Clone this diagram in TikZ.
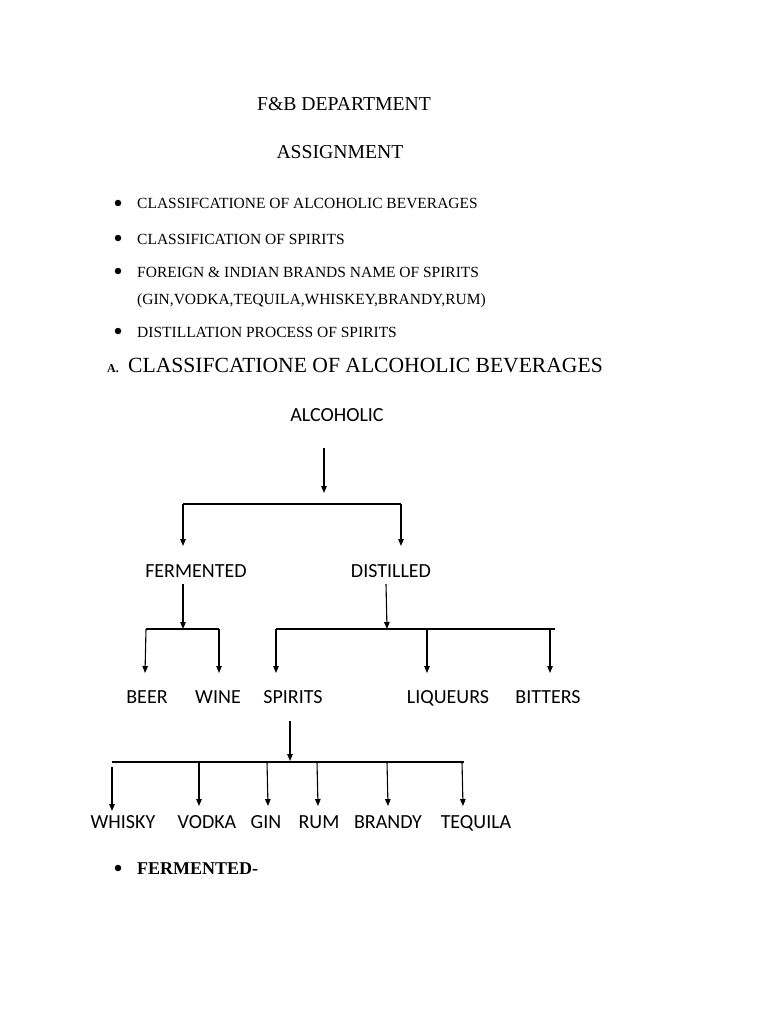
\documentclass[tikz,border=0pt]{standalone}
\usepackage{fontspec}
\setmainfont{Liberation Serif}
\newfontfamily\diag{Carlito}
\usetikzlibrary{arrows.meta}
\begin{document}
\begin{tikzpicture}[x=1pt,y=-1pt,
  every node/.style={inner sep=0pt,anchor=base},
  lbl/.style={font=\diag\fontsize{20}{20}\selectfont},
  bul/.style={font=\fontsize{15.5}{15.5}\selectfont,anchor=base west},
  title/.style={font=\fontsize{19.7}{19.7}\selectfont},
  conn/.style={line width=1.1pt},
  arr/.style={line width=1.1pt,-{Triangle[length=7pt,width=5.5pt]}},
  dot/.style={circle,fill=black,minimum size=6.5pt,inner sep=0pt,anchor=center}]
\useasboundingbox[fill=white] (0,0) rectangle (768,1024);
% header
\node[title] (t1) at (344,111) {F\&B DEPARTMENT};
\node[title] (t2) at (340,159) {ASSIGNMENT};
\foreach \y/\n in {203/b1,238/b2,271/b3,331/b4} \node[dot] (\n) at (118,\y) {};
\node[bul] (l1) at (137,209) {CLASSIFCATIONE OF ALCOHOLIC BEVERAGES};
\node[bul] (l2) at (137,244) {CLASSIFICATION OF SPIRITS};
\node[bul] (l3) at (137,277) {FOREIGN \& INDIAN BRANDS NAME OF SPIRITS};
\node[bul] (l3b) at (137,304) {(GIN,VODKA,TEQUILA,WHISKEY,BRANDY,RUM)};
\node[bul] (l4) at (137,337) {DISTILLATION PROCESS OF SPIRITS};
\node[anchor=base west,font=\bfseries\fontsize{12}{12}\selectfont] (ha) at (107,372) {A.};
\node[anchor=base west,font=\fontsize{21.6}{21.6}\selectfont] (hb) at (128,372) {CLASSIFCATIONE OF ALCOHOLIC BEVERAGES};
% tree labels
\node[lbl] (alc) at (337,421) {ALCOHOLIC};
\node[lbl] (fer) at (196,577) {FERMENTED};
\node[lbl] (dis) at (391,577) {DISTILLED};
\node[lbl] (beer) at (147,703) {BEER};
\node[lbl] (wine) at (218,703) {WINE};
\node[lbl] (spi) at (293,703) {SPIRITS};
\node[lbl] (liq) at (448,703) {LIQUEURS};
\node[lbl] (bit) at (548,703) {BITTERS};
\node[lbl] (whi) at (123,828) {WHISKY};
\node[lbl] (vod) at (207,828) {VODKA};
\node[lbl] (gin) at (266,828) {GIN};
\node[lbl] (rum) at (319,828) {RUM};
\node[lbl] (bra) at (388,828) {BRANDY};
\node[lbl] (teq) at (476,828) {TEQUILA};
% junction coordinates
\coordinate (a0) at (324,448); \coordinate (a1) at (324,493);
\coordinate (h1l) at (183,504); \coordinate (h1r) at (401,504);
\coordinate (fe) at (183,546); \coordinate (de) at (401,546);
\coordinate (f0) at (183,584); \coordinate (f1) at (183,629);
\coordinate (h2l) at (146,629); \coordinate (h2r) at (219,629);
\coordinate (be) at (145,673); \coordinate (we) at (219,673);
\coordinate (d0) at (386,584); \coordinate (d1) at (387,629);
\coordinate (h3l) at (276,629); \coordinate (h3r) at (555,629);
\coordinate (se) at (276,673); \coordinate (le) at (427,673);
\coordinate (bie) at (550,673);
\coordinate (s0) at (290,721); \coordinate (s1) at (290,761);
\coordinate (h4l) at (112,762); \coordinate (h4r) at (464,762);
% connectors
\draw[arr] (a0) -- (a1);
\draw[conn] (h1l) -- (h1r);
\draw[arr] (h1l) -- (fe);
\draw[arr] (h1r) -- (de);
\draw[arr] (f0) -- (f1);
\draw[conn] (h2l) -- (h2r);
\draw[arr] (h2l) -- (be);
\draw[arr] (h2r) -- (we);
\draw[arr] (d0) -- (d1);
\draw[conn] (h3l) -- (h3r);
\draw[arr] (h3l) -- (se);
\draw[arr] (427,629) -- (le);
\draw[arr] (550,629) -- (bie);
\draw[arr] (s0) -- (s1);
\draw[conn] (h4l) -- (h4r);
\draw[arr] (112,767) -- (112,811);
\draw[arr] (199,762) -- (199,806);
\draw[arr] (267,762) -- (268,806);
\draw[arr] (317,762) -- (318,806);
\draw[arr] (387,762) -- (388,806);
\draw[arr] (462,762) -- (463,806);
% final bullet
\node[dot] (b5) at (118,868) {};
\node[anchor=base west,font=\bfseries\fontsize{18}{18}\selectfont] (fm) at (137,874) {FERMENTED-};
\end{tikzpicture}
\end{document}
